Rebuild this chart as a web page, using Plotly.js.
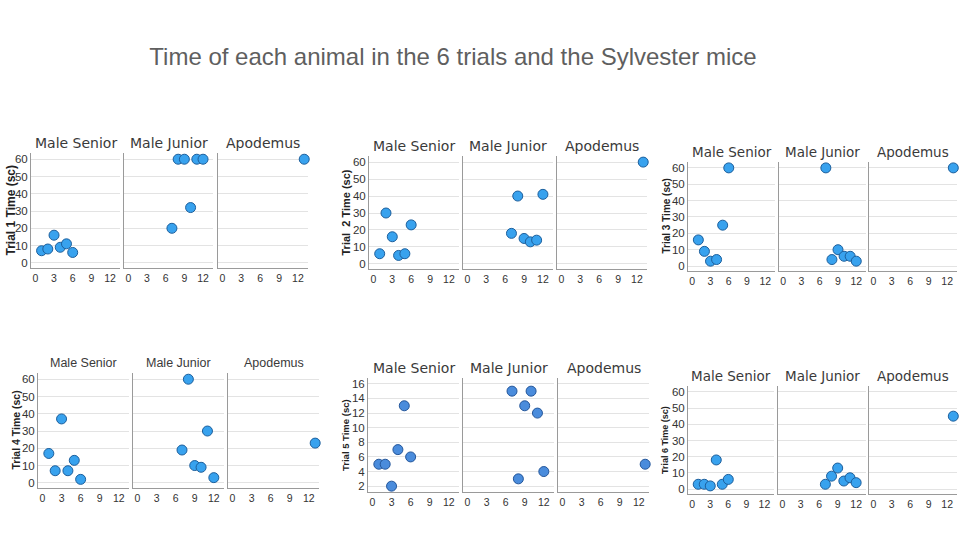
<!DOCTYPE html>
<html>
<head>
<meta charset="utf-8">
<script src="https://cdn.plot.ly/plotly-3.0.1.min.js"></script>
<style>
  html, body { margin: 0; padding: 0; background: #ffffff; }
  #chart { width: 960px; height: 540px; }
</style>
</head>
<body>
<div id="chart"></div>
<script>
// Animal numbers and their groups
const animalIds = [1, 2, 3, 4, 5, 6, 7, 8, 9, 10, 11, 12, 13];
const animalGroups = ['Male Senior', 'Male Senior', 'Male Senior', 'Male Senior', 'Male Senior', 'Male Senior',
                      'Male Junior', 'Male Junior', 'Male Junior', 'Male Junior', 'Male Junior', 'Male Junior',
                      'Apodemus'];
const groupNames = ['Male Senior', 'Male Junior', 'Apodemus'];

// Time (sc) of each animal, per trial
const trial1 = [7, 8, 16, 9, 11, 6, 20, 60, 60, 32, 60, 60, 60];
const trial2 = [6, 30, 16, 5, 6, 23, 18, 40, 15, 13, 14, 41, 60];
const trial3 = [16, 9, 3, 4, 25, 60, 60, 4, 10, 6, 6, 3, 60];
const trial4 = [17, 7, 37, 7, 13, 2, 19, 60, 10, 9, 30, 3, 23];
const trial5 = [5, 5, 2, 7, 13, 6, 15, 3, 13, 15, 12, 4, 5];
const trial6 = [3, 3, 2, 18, 3, 6, 3, 8, 13, 5, 7, 4, 45];

const trialNames = ['Trial 1 Time (sc)', 'Trial  2 Time (sc)', 'Trial 3 Time (sc)',
                    'Trial 4 Time (sc)', 'Trial 5 Time (sc)', 'Trial 6 Time (sc)'];
const xTicks = [0, 3, 6, 9, 12];
const yTicks60 = [0, 10, 20, 30, 40, 50, 60];
const yTicks16 = [2, 4, 6, 8, 10, 12, 14, 16];

const W = 960, H = 540;
const trials = [trial1, trial2, trial3, trial4, trial5, trial6];

// Panel geometry in pixels: facet left/right edges, plot top/bottom,
// y-title position and size, facet-title font
const panels = [
  { fx: [[31, 120], [124, 213], [218, 308]], top: 153, bottom: 268, ytx: 10, ytSize: 12, facetFont: 'DejaVu Sans, sans-serif', facetSize: 14 },
  { fx: [[369, 459], [463, 553], [557, 647]], top: 156, bottom: 269, ytx: 345, ytSize: 11, facetFont: 'DejaVu Sans, sans-serif', facetSize: 14 },
  { fx: [[688, 775], [779, 866], [869, 957]], top: 162, bottom: 271, ytx: 666, ytSize: 10, facetFont: 'DejaVu Sans, sans-serif', facetSize: 13.5 },
  { fx: [[38, 129], [133, 224], [228, 319]], top: 373, bottom: 488, ytx: 15, ytSize: 10.5, facetFont: 'Liberation Sans Narrow, Arial Narrow, Liberation Sans, sans-serif', facetSize: 12.5 },
  { fx: [[368, 459], [463, 554], [558, 649]], top: 378, bottom: 492, ytx: 345, ytSize: 9.5, facetFont: 'DejaVu Sans, sans-serif', facetSize: 14 },
  { fx: [[688, 774], [778, 866], [869, 957]], top: 386, bottom: 494, ytx: 665, ytSize: 9, facetFont: 'DejaVu Sans, sans-serif', facetSize: 13.5 }
];

const markerFill = '#38a2ee', markerLine = '#1d5f9c';
const markerFill5 = '#4a8cdc', markerLine5 = '#24569a';

const data = [];
const layout = {
  width: W, height: H,
  margin: { l: 0, r: 0, t: 0, b: 0 },
  paper_bgcolor: '#ffffff',
  plot_bgcolor: '#ffffff',
  showlegend: false,
  font: { family: 'Liberation Sans, Arial, sans-serif', color: '#333333' },
  title: {
    text: 'Time of each animal in the 6 trials and the Sylvester mice',
    x: 453 / W, xanchor: 'center', y: 1 - 57 / H, yanchor: 'middle',
    font: { family: 'Liberation Sans, Arial, sans-serif', size: 24, color: '#5f5f5f' }
  },
  annotations: []
};

panels.forEach((p, pi) => {
  const values = trials[pi];
  const is16 = pi === 4;
  groupNames.forEach((g, fi) => {
    const n = pi * 3 + fi + 1;
    const xs = [], ys = [];
    animalIds.forEach((id, k) => {
      if (animalGroups[k] === g) { xs.push(id); ys.push(values[k]); }
    });
    data.push({
      type: 'scatter', mode: 'markers',
      x: xs, y: ys,
      xaxis: 'x' + n, yaxis: 'y' + n,
      marker: {
        size: 10,
        color: is16 ? markerFill5 : markerFill,
        line: { width: 1, color: is16 ? markerLine5 : markerLine }
      },
      cliponaxis: false,
      hoverinfo: 'x+y'
    });
    const [x0, x1] = p.fx[fi];
    layout['xaxis' + n] = {
      domain: [x0 / W, x1 / W],
      anchor: 'y' + n,
      range: [-0.7, 13.6],
      tickvals: xTicks,
      ticks: '',
      showgrid: false,
      zeroline: false,
      showline: true, linecolor: '#9a9a9a', linewidth: 1,
      tickfont: { size: 10.5, color: '#333333', family: 'Liberation Sans, Arial, sans-serif' },
      fixedrange: true
    };
    layout['yaxis' + n] = {
      domain: [1 - p.bottom / H, 1 - p.top / H],
      anchor: 'x' + n,
      range: is16 ? [1.2, 16.8] : [-3, 63.6],
      tickvals: is16 ? yTicks16 : yTicks60,
      ticks: '',
      showticklabels: fi === 0,
      showgrid: true, gridcolor: '#e3e3e3', gridwidth: 1,
      zeroline: false,
      showline: true, linecolor: '#9a9a9a', linewidth: 1,
      tickfont: { size: 11.5, color: '#333333', family: 'Liberation Sans Narrow, Arial Narrow, Liberation Sans, sans-serif' },
      fixedrange: true
    };
    // facet title
    layout.annotations.push({
      text: g,
      xref: 'paper', yref: 'paper',
      x: (x0 + x1) / 2 / W, y: 1 - (p.top - 10) / H,
      xanchor: 'center', yanchor: 'middle',
      showarrow: false,
      font: { family: p.facetFont, size: p.facetSize, color: '#3a3a3a' }
    });
  });
  // y-axis title
  layout.annotations.push({
    text: '<b>' + trialNames[pi] + '</b>',
    xref: 'paper', yref: 'paper',
    x: p.ytx / W, y: 1 - (p.top + p.bottom) / 2 / H,
    xanchor: 'center', yanchor: 'middle',
    textangle: -90,
    showarrow: false,
    font: { family: 'Liberation Sans, Arial, sans-serif', size: p.ytSize, color: '#222222' }
  });
});

Plotly.newPlot('chart', data, layout, { displayModeBar: false, staticPlot: true });
</script>
</body>
</html>
